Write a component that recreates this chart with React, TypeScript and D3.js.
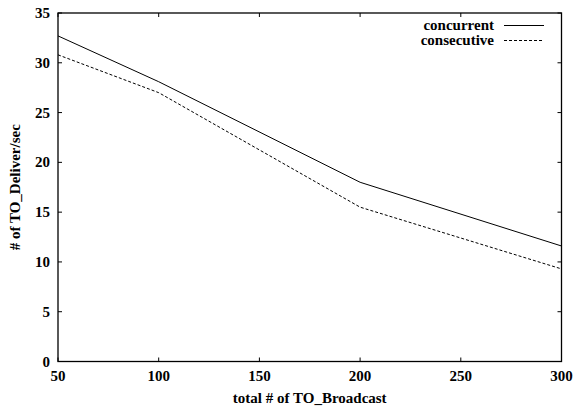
import React from "react";
import * as d3 from "d3";

const xValues = [50, 100, 200, 300];
const concurrent = [32.7, 28.1, 18.0, 11.6];
const consecutive = [30.8, 27.0, 15.5, 9.3];
const xTicks = [50, 100, 150, 200, 250, 300];
const yTicks = [0, 5, 10, 15, 20, 25, 30, 35];
const seriesNames = ["concurrent", "consecutive"];

const W = 576, H = 412;
const M = { left: 58, right: 14.5, top: 13, bottom: 50.5 };
const font = "'Liberation Serif', 'Times New Roman', serif";

export default function App() {
  const x = d3.scaleLinear().domain([50, 300]).range([M.left, W - M.right]);
  const y = d3.scaleLinear().domain([0, 35]).range([H - M.bottom, M.top]);
  const line = d3.line<number>().x((_, i) => x(xValues[i])).y((d) => y(d));
  const series = [concurrent, consecutive];
  const tl = 4;
  return (
    <svg width={W} height={H} style={{ position: "absolute", left: 0, top: 0 }}
      fontFamily={font} fontWeight="bold" fontSize={15}>
      <rect x={0} y={0} width={W} height={H} fill="white" />
      {xTicks.map((t) => (
        <g key={"x" + t} stroke="#000" strokeWidth={1}>
          <line x1={x(t)} x2={x(t)} y1={y(0)} y2={y(0) - tl} />
          <line x1={x(t)} x2={x(t)} y1={y(35)} y2={y(35) + tl} />
        </g>
      ))}
      {yTicks.map((t) => (
        <g key={"y" + t} stroke="#000" strokeWidth={1}>
          <line x1={x(50)} x2={x(50) + tl} y1={y(t)} y2={y(t)} />
          <line x1={x(300)} x2={x(300) - tl} y1={y(t)} y2={y(t)} />
        </g>
      ))}
      <rect x={x(50)} y={y(35)} width={x(300) - x(50)} height={y(0) - y(35)}
        fill="none" stroke="#000" strokeWidth={1.3} />
      {xTicks.map((t) => (
        <text key={"xl" + t} x={x(t)} y={y(0) + 19} textAnchor="middle">{t}</text>
      ))}
      {yTicks.map((t) => (
        <text key={"yl" + t} x={x(50) - 8} y={y(t) + 5} textAnchor="end">{t}</text>
      ))}
      <text x={(x(50) + x(300)) / 2} y={H - 9} textAnchor="middle">total # of TO_Broadcast</text>
      <text transform={`translate(20,${(y(0) + y(35)) / 2}) rotate(-90)`} textAnchor="middle">
        # of TO_Deliver/sec
      </text>
      {series.map((s, i) => (
        <path key={"s" + i} d={line(s) || ""} fill="none" stroke="#000" strokeWidth={1}
          strokeDasharray={i === 1 ? "3,2" : undefined} />
      ))}
      {seriesNames.map((n, i) => (
        <g key={"lg" + i}>
          <text x={494} y={29.5 + i * 15} textAnchor="end">{n}</text>
          <line x1={504} x2={544} y1={25.5 + i * 15} y2={25.5 + i * 15} stroke="#000"
            strokeWidth={1} strokeDasharray={i === 1 ? "3,2" : undefined} />
        </g>
      ))}
    </svg>
  );
}
